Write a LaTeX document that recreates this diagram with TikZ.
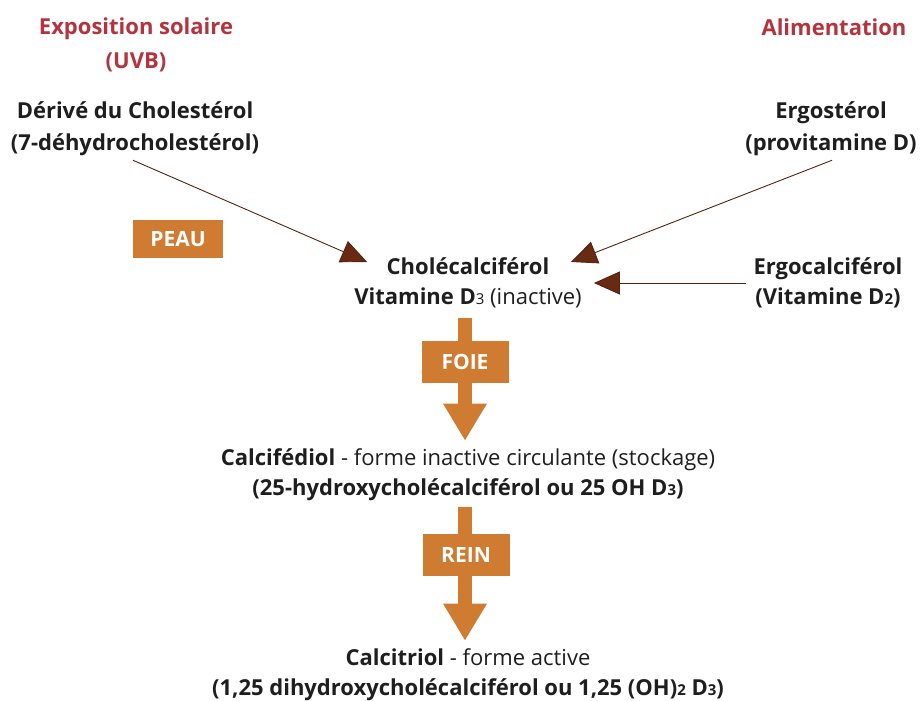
\documentclass[tikz,border=0pt]{standalone}
\usepackage{fontspec}
\setmainfont{Open Sans}
\usetikzlibrary{arrows.meta}

\definecolor{organ}{RGB}{207,124,50}
\definecolor{feedbrown}{RGB}{105,42,20}
\definecolor{titlered}{RGB}{180,52,62}
\definecolor{ink}{RGB}{30,30,30}

\tikzset{
  stage/.style={align=center, inner sep=0pt, text=ink, font=\fontsize{22}{30}\selectfont},
  boldstage/.style={stage, font=\fontsize{22}{32}\selectfont\bfseries},
  source/.style={align=center, inner sep=0pt, text=titlered, font=\fontsize{22}{34}\selectfont\bfseries},
  organbox/.style={fill=organ, text=white, inner sep=0pt, minimum width=87pt, minimum height=42pt, font=\fontsize{21}{22}\selectfont\bfseries},
  feed/.style={draw=feedbrown!80!black, line width=0.9pt, -{Triangle[length=26pt,width=23pt,fill=feedbrown]}},
  blockarrow/.style={draw=organ, line width=14pt, -{Triangle[length=37pt,width=41pt,fill=organ]}}
}
\newcommand{\sub}[1]{{\fontsize{15}{15}\selectfont #1}}

\begin{document}
\begin{tikzpicture}[x=1pt, y=-1pt]
    \useasboundingbox (0,0) rectangle (921,701);

    % sources
    \node[source] (sun) at (136,45) {Exposition solaire\\(UVB)};
    \node[source] (food) at (834,27) {Alimentation};

    % precursors
    \node[boldstage] (deriv) at (135,129) {Dérivé du Cholestérol\\(7-déhydrocholestérol)};
    \node[boldstage] (ergo) at (831,129) {Ergostérol\\(provitamine D)};
    \node[stage] (ergocal) at (828,283) {\textbf{Ergocalciférol}\\\textbf{(Vitamine D\sub{2})}};

    % chain
    \node[stage] (chol) at (468,283) {\textbf{Cholécalciférol}\\\textbf{Vitamine D}\sub{3} (inactive)};
    \node[stage] (calcif) at (468,475) {\textbf{Calcifédiol} - forme inactive circulante (stockage)\\\textbf{(25-hydroxycholécalciférol ou 25 OH D\sub{3})}};
    \node[stage] (calcit) at (468,675) {\textbf{Calcitriol} - forme active\\\textbf{(1,25 dihydroxycholécalciférol ou 1,25 (OH)\sub{2} D\sub{3})}};

    % arrows
    \draw[feed] ([shift={(-2,4)}]deriv.south) -- ([shift={(13,-21)}]chol.west);
    \draw[feed] ([shift={(1,4)}]ergo.south) -- ([shift={(-11,-21)}]chol.east);
    \draw[feed] ([xshift=-7]ergocal.west) -- ([xshift=12]chol.east);

    \draw[blockarrow, shorten <=10pt, shorten >=8pt] ([xshift=-3]chol.south) -- ([xshift=-3]calcif.north);
    \draw[blockarrow, shorten <=6pt, shorten >=8pt] ([xshift=-3]calcif.south) -- ([xshift=-3]calcit.north);

    % organs
    \node[organbox, minimum width=90pt, minimum height=38pt] (peau) at (178,239) {PEAU};
    \node[organbox] (foie) at (465,362) {FOIE};
    \node[organbox] (rein) at (466,555) {REIN};
\end{tikzpicture}
\end{document}
